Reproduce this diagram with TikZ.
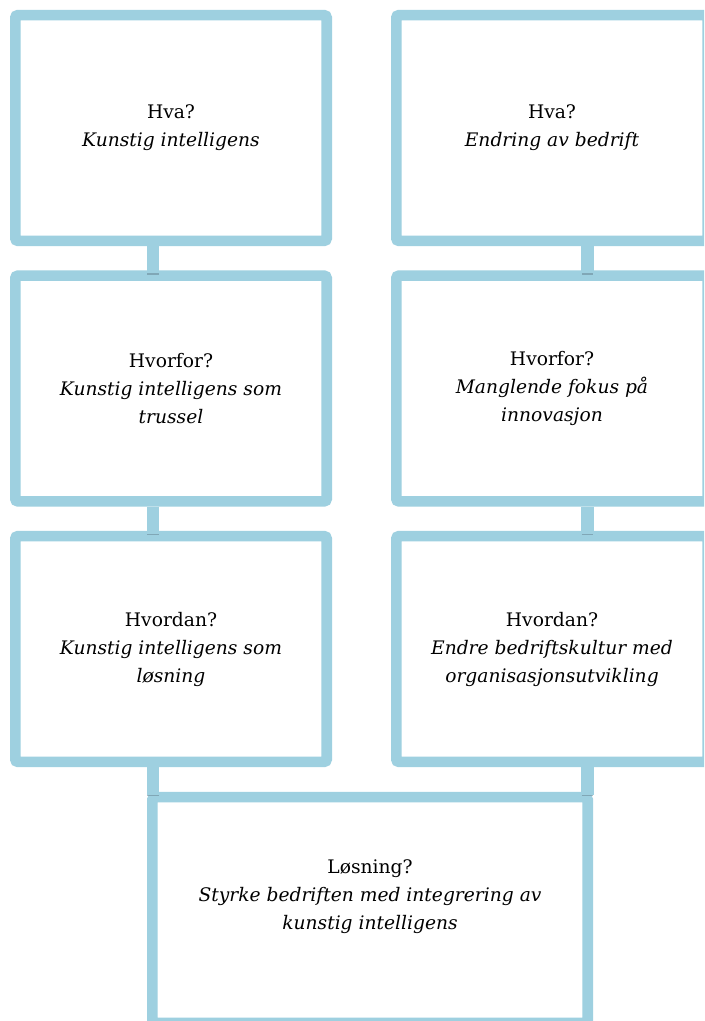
\documentclass[tikz,border=0pt]{standalone}
\usepackage{fontspec}
\setmainfont{DejaVu Serif}
\definecolor{boxblue}{RGB}{158,208,224}
\definecolor{shadeblue}{RGB}{105,135,148}
\begin{document}
\begin{tikzpicture}[x=0.75pt,y=-0.75pt,
  card/.style={draw=boxblue, line width=7.9pt, rounded corners=2pt, inner sep=0pt,
    fill=white, align=center, minimum width=233.6pt, minimum height=169.3pt,
    font=\fontsize{14pt}{21pt}\selectfont},
  conn/.style={draw=boxblue, line width=9.4pt},
  connshade/.style={draw=shadeblue, line width=1.2pt, opacity=0.55},
  lbl/.style={align=center, inner sep=0pt, font=\fontsize{14pt}{21pt}\selectfont}
  ]
\useasboundingbox (0,0) rectangle (704,1021);
\clip (0,0) rectangle (704,1021);
\fill[white] (0,0) rectangle (704,1021);

\node[card] (b1) at (171,128)   {Hva?\\\textit{Kunstig intelligens}};
\node[card] (b2) at (171,388.5) {Hvorfor?\\\textit{Kunstig intelligens som}\\\textit{trussel}};
\node[card] (b3) at (171,649)   {Hvordan?\\\textit{Kunstig intelligens som}\\\textit{løsning}};
\node[card] (b4) at (552,128)   {Hva?\\\textit{Endring av bedrift}};
\node[card] (b5) at (552,388.5) {Hvorfor?\\\textit{Manglende fokus på}\\\textit{innovasjon}};
\node[card] (b6) at (552,649)   {Hvordan?\\\textit{Endre bedriftskultur med}\\\textit{organisasjonsutvikling}};
\node[card, minimum width=326.6pt] (b7) at (370,910) {};
\node[lbl] (t7) at (370,897) {Løsning?\\\textit{Styrke bedriften med integrering av}\\\textit{kunstig intelligens}};

% connector anchor points
\coordinate (c1) at ([xshift=-13.5pt]b1.south);
\coordinate (c2) at ([xshift=-13.5pt]b2.south);
\coordinate (c3) at ([xshift=-13.5pt]b3.south);
\coordinate (c4) at ([xshift=26.6pt]b4.south);
\coordinate (c5) at ([xshift=26.6pt]b5.south);
\coordinate (c6) at ([xshift=26.6pt]b6.south);

\coordinate (e1) at ([yshift=-2.6pt]c1 |- b2.north);
\coordinate (e2) at ([yshift=-2.6pt]c2 |- b3.north);
\coordinate (e3) at ([yshift=-2.6pt]c3 |- b7.north);
\coordinate (e4) at ([yshift=-2.6pt]c4 |- b5.north);
\coordinate (e5) at ([yshift=-2.6pt]c5 |- b6.north);
\coordinate (e6) at ([yshift=-2.6pt]c6 |- b7.north);

\foreach \a/\b in {c1/e1,c2/e2,c3/e3,c4/e4,c5/e5,c6/e6}{
  \draw[conn] (\a) -- (\b);
  \draw[connshade] ([xshift=-4.2pt]\b) -- ([xshift=4.2pt]\b);
}
\end{tikzpicture}
\end{document}
